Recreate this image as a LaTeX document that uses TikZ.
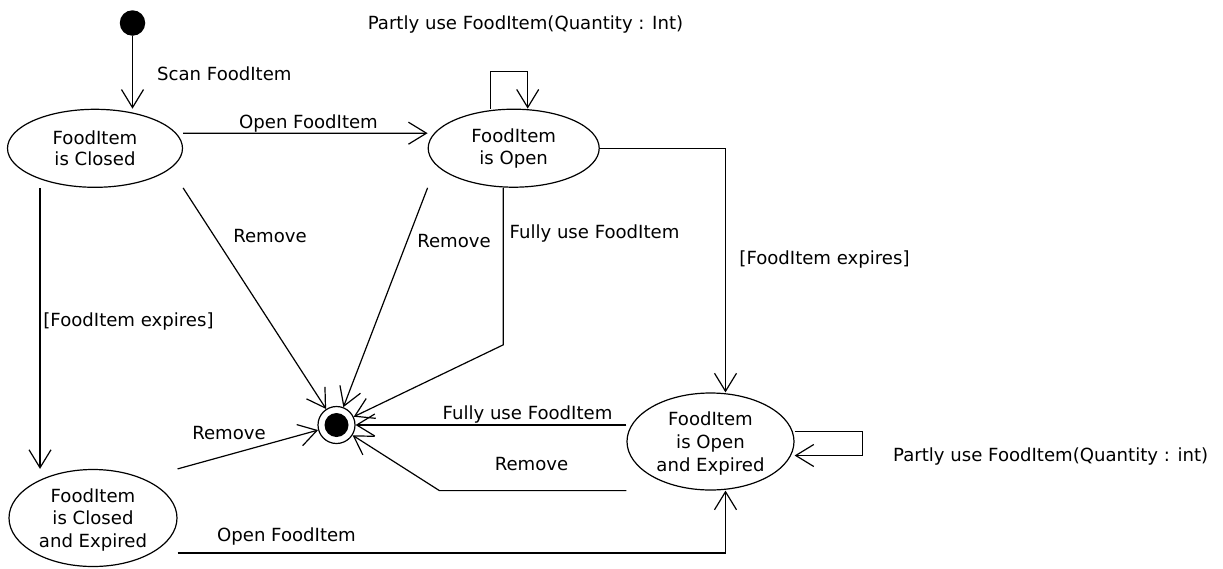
\documentclass[tikz,border=0pt]{standalone}
\usepackage{fontspec}
\setmainfont{DejaVu Sans}
\usetikzlibrary{arrows.meta,shapes.geometric}
\begin{document}
\begin{tikzpicture}[x=1pt,y=-1pt,
  every node/.style={font=\fontsize{18.1pt}{21.7pt}\selectfont},
  fstate/.style={draw, ellipse, inner sep=0pt, align=center, line width=1.2pt},
  tallstate/.style={fstate, font=\fontsize{18.1pt}{22.8pt}\selectfont, text depth=0pt},
  trans/.style={line width=1.2pt, -{Straight Barb[length=18pt,width=22pt]}},
  lbl/.style={anchor=base, inner sep=0pt}]
\useasboundingbox (0,0) rectangle (1223,568);

% pseudo states
\node[circle, fill=black, minimum size=25.5pt, inner sep=0pt] (start) at (132.5,23) {};
\node[circle, draw, fill=white, line width=1.2pt, minimum size=37pt, inner sep=0pt,
      path picture={\fill[black] (path picture bounding box.center) circle[radius=12pt];}]
      (final) at (336.5,425) {};

% states
\node[fstate, minimum width=175pt, minimum height=78pt] (closed) at (95,148.3) {FoodItem\\is Closed};
\node[fstate, minimum width=171pt, minimum height=78pt] (open) at (513.7,148.2) {FoodItem\\is Open};
\node[tallstate, minimum width=168pt, minimum height=97pt] (closedexp) at (93,518) {FoodItem\\is Closed\\and Expired};
\node[tallstate, minimum width=167pt, minimum height=97pt] (openexp) at (710.5,441.5) {FoodItem\\is Open\\and Expired};

% transitions
\draw[trans] (start) -- (start |- closed.north);
\draw[trans] ([yshift=15pt]closed.east) -- ([yshift=15pt]open.west);
\draw[trans] ([xshift=-23pt]open.north) -- ++(0,-37) -| ([xshift=14pt]open.north);
\draw[trans] (open.east) -| ([xshift=15pt]openexp.north);
\draw[trans] ([xshift=-55pt]closed.south) -- ([xshift=-55pt]closed.south |- closedexp.north);
\draw[trans] (closed.south -| closed.east) -- (final);
\draw[trans] (open.south -| open.west) -- (final);
\draw[trans] ([xshift=-10.4pt]open.south) -- ++(0,157) -- (final);
\draw[trans] ([yshift=16.5pt]openexp.west) -- (final);
\draw[trans] (openexp.south -| openexp.west) -- ++(-187,0) -- (final);
\draw[trans] (closedexp.north -| closedexp.east) -- (final);
\draw[trans] ([yshift=-35pt]closedexp.east) -| ([xshift=15pt]openexp.south);
\draw[trans] ([yshift=10pt]openexp.east) -- ++(68,0) |- ([yshift=-14pt]openexp.east);

% transition labels
\node[lbl] (lPartlyOpen) at (525.5,29) {Partly use FoodItem(Quantity : Int)};
\node[lbl, anchor=base west] (lScan) at (157,80.7) {Scan FoodItem};
\node[lbl] (lOpenTop) at (308.5,128.5) {Open FoodItem};
\node[lbl] (lRemClosed) at (270,242.5) {Remove};
\node[lbl] (lRemOpen) at (454,247.5) {Remove};
\node[lbl] (lFullyOpen) at (594.5,238.5) {Fully use FoodItem};
\node[lbl] (lExpOpen) at (824.5,264.5) {[FoodItem expires]};
\node[lbl] (lExpClosed) at (128.5,326.5) {[FoodItem expires]};
\node[lbl] (lRemClosedExp) at (229,439.5) {Remove};
\node[lbl] (lFullyOpenExp) at (527.5,419.3) {Fully use FoodItem};
\node[lbl] (lRemOpenExp) at (531.5,470.7) {Remove};
\node[lbl] (lOpenBottom) at (286.5,541.7) {Open FoodItem};
\node[lbl, anchor=base west] (lPartlyOpenExp) at (893,461.7) {Partly use FoodItem(Quantity : int)};
\end{tikzpicture}
\end{document}
